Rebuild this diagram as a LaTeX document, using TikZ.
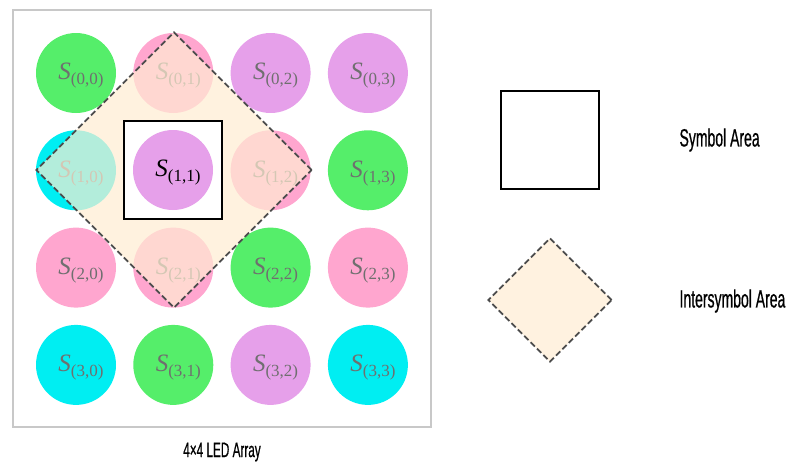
\documentclass[tikz,border=0pt]{standalone}
\usepackage{fontspec}
\usepackage{tikz}
\usetikzlibrary{positioning,shapes.geometric}
\newfontfamily\narrowfont[FakeStretch=0.56, FakeBold=0.6]{Liberation Sans}
\newfontfamily\labelfont{Liberation Serif}
\definecolor{ledgreen}{HTML}{55EE6A}
\definecolor{ledpink}{HTML}{FFA6CF}
\definecolor{ledviolet}{HTML}{E6A0EA}
\definecolor{ledcyan}{HTML}{00EEF2}
\definecolor{isbfill}{HTML}{FFEDD2}
\definecolor{isblegend}{HTML}{FFF2E0}
\definecolor{labelgray}{HTML}{6F6F6F}
\definecolor{framegray}{HTML}{C8C8C8}
\newcommand{\ledname}[2]{{\labelfont\fontsize{25}{28}\selectfont\textit{S}\raisebox{-5pt}{\fontsize{17}{20}\selectfont(#1,#2)}}}
\tikzset{
  led/.style={circle, minimum size=80pt, inner sep=0pt, fill=#1},
  ledlabel/.style={text=labelgray, inner sep=0pt, xshift=5pt, yshift=-3pt},
  symarea/.style={draw=black, line width=1.6pt, fill=white, minimum size=98pt, inner sep=0pt},
  isbarea/.style={draw=black!70, dash pattern=on 6pt off 3pt, line width=1.8pt, diamond, aspect=1, inner sep=0pt},
  legendtext/.style={font=\narrowfont\fontsize{25}{28}\selectfont, anchor=west}
}

\begin{document}
\begin{tikzpicture}[x=1pt, y=-1pt]
  \useasboundingbox (0,0) rectangle (792,461);

  % LED array frame
  \node[draw=framegray, line width=1.2pt, minimum width=418pt, minimum height=417pt, inner sep=0pt] (array) at (222,218.5) {};

  % LEDs (the centre one is drawn last)
  \foreach \r/\c/\col in {0/0/ledgreen, 0/1/ledpink, 0/2/ledviolet, 0/3/ledviolet,
                          1/0/ledcyan, 1/2/ledpink, 1/3/ledgreen,
                          2/0/ledpink, 2/1/ledpink, 2/2/ledgreen, 2/3/ledpink,
                          3/0/ledcyan, 3/1/ledgreen, 3/2/ledviolet, 3/3/ledcyan}{
    \node[led=\col] (s\r\c) at ({76+97.3*\c},{73+97.3*\r}) {};
    \node[ledlabel] (l\r\c) at (s\r\c) {\ledname{\r}{\c}};
  }

  % intersymbol area over the array
  \node[isbarea, fill=isbfill, fill opacity=0.7, minimum width=276pt, minimum height=276pt] (isb) at (174,170) {};

  % symbol area with the centre LED
  \node[symarea] (sym) at (173,170) {};
  \node[led=ledviolet] (s11) at (sym) {};
  \node[ledlabel, text=black] (l11) at (s11) {\ledname{1}{1}};

  \node[font=\narrowfont\fontsize{21}{24}\selectfont] (cap) at (222,452) {4×4 LED Array};

  % legend
  \node[symarea, line width=1.5pt] (symkey) at (550,140) {};
  \node[isbarea, fill=isblegend, minimum width=124pt, minimum height=124pt] (isbkey) at (550,300) {};
  \node[legendtext] (symtext) at (676,140) {Symbol Area};
  \node[legendtext] (isbtext) at (676,301) {Intersymbol Area};
\end{tikzpicture}
\end{document}
